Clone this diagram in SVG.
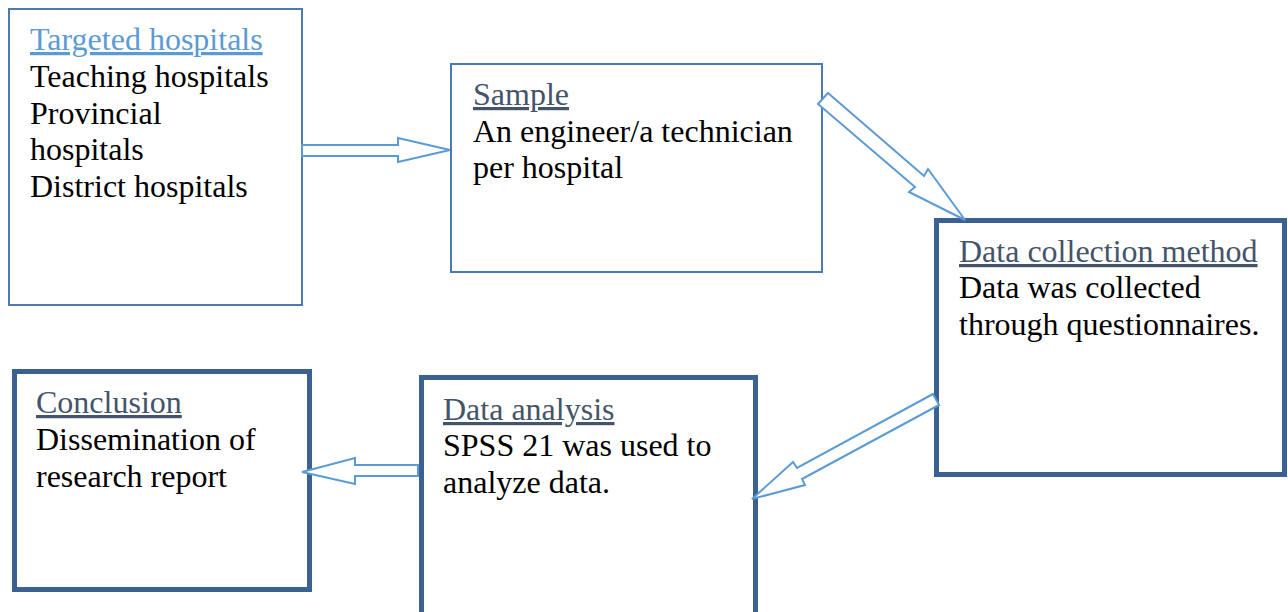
<svg xmlns="http://www.w3.org/2000/svg" width="1288" height="612" viewBox="0 0 1288 612">
  <style>
    .thin { fill: #ffffff; stroke: #4a7bb0; stroke-width: 2; }
    .thick { fill: #ffffff; stroke: #3b6190; stroke-width: 5; }
    .t { font-family: "Liberation Serif", "Times New Roman", serif; font-size: 32px; fill: #000000; }
    .h { text-decoration: underline; fill: #44546a; }
    .h1 { text-decoration: underline; fill: #5b9bd5; }
    .arrow { fill: #ffffff; stroke: #5b9bd5; stroke-width: 2; stroke-linejoin: miter; }
  </style>
  <rect x="0" y="0" width="1288" height="612" fill="#ffffff"/>

  <g id="targeted-hospitals">
    <rect class="thin" x="9" y="9" width="293" height="296"/>
    <text class="t h1" x="30" y="50">Targeted hospitals</text>
    <text class="t" x="30" y="87">Teaching hospitals</text>
    <text class="t" x="30" y="124">Provincial</text>
    <text class="t" x="30" y="160">hospitals</text>
    <text class="t" x="30" y="197">District hospitals</text>
  </g>

  <g id="sample">
    <rect class="thin" x="451" y="64" width="371" height="208"/>
    <text class="t h" x="473" y="105">Sample</text>
    <text class="t" x="473" y="142">An engineer/a technician</text>
    <text class="t" x="473" y="178">per hospital</text>
  </g>

  <g id="data-collection">
    <rect class="thick" x="936.5" y="220.5" width="348" height="254"/>
    <text class="t h" x="959" y="262">Data collection method</text>
    <text class="t" x="959" y="298">Data was collected</text>
    <text class="t" x="959" y="335">through questionnaires.</text>
  </g>

  <g id="data-analysis">
    <rect class="thick" x="421.5" y="377.5" width="334" height="250"/>
    <text class="t h" x="443" y="420">Data analysis</text>
    <text class="t" x="443" y="456">SPSS 21 was used to</text>
    <text class="t" x="443" y="493">analyze data.</text>
  </g>

  <g id="conclusion">
    <rect class="thick" x="14.5" y="371.5" width="295" height="218"/>
    <text class="t h" x="36" y="413">Conclusion</text>
    <text class="t" x="36" y="450">Dissemination of</text>
    <text class="t" x="36" y="487">research report</text>
  </g>

  <g id="connectors">
    <polygon class="arrow" points="302,145 398,145 398,138 450,150 398,162 398,156 302,156"/>
    <polygon class="arrow" points="828,93 924,176 928,169 965,220 909,192 915,187 818,104"/>
    <polygon class="arrow" points="933,394 797,468 793,462 752,499 805,485 802,479 939,405"/>
    <polygon class="arrow" points="418,465 355,465 355,458 302,472 355,484 355,476 418,476"/>
  </g>
</svg>
